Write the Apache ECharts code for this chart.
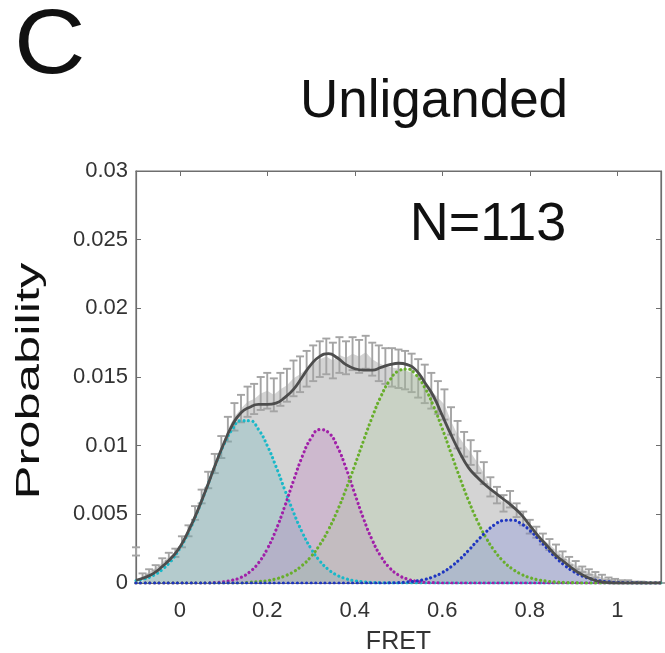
<!DOCTYPE html>
<html>
<head>
<meta charset="utf-8">
<script src="https://cdn.jsdelivr.net/npm/echarts@6/dist/echarts.min.js"></script>
<style>html,body{margin:0;padding:0;background:#fff}#c{width:665px;height:653px}</style>
</head>
<body>
<div id="c"></div>
<script>
const FONT = '"Liberation Sans", Arial, Helvetica, sans-serif';
const xTicks = [0, 0.2, 0.4, 0.6, 0.8, 1];
const xTickLabels = ['0', '0.2', '0.4', '0.6', '0.8', '1'];
const yTicks = [0, 0.005, 0.01, 0.015, 0.02, 0.025, 0.03];
const yTickLabels = ['0', '0.005', '0.01', '0.015', '0.02', '0.025', '0.03'];

// histogram bins (FRET centre), mean probability, error
const histX = [-0.1,-0.085,-0.07,-0.055,-0.04,-0.025,-0.01,0.005,0.02,0.035,0.05,0.065,0.08,0.095,0.11,0.125,0.14,0.155,0.17,0.185,0.2,0.215,0.23,0.245,0.26,0.275,0.29,0.305,0.32,0.335,0.35,0.365,0.38,0.395,0.41,0.425,0.44,0.455,0.47,0.485,0.5,0.515,0.53,0.545,0.56,0.575,0.59,0.605,0.62,0.635,0.65,0.665,0.68,0.695,0.71,0.725,0.74,0.755,0.77,0.785,0.8,0.815,0.83,0.845,0.86,0.875,0.89,0.905,0.92,0.935,0.95,0.965,0.98,0.995,1.01,1.025,1.04,1.055,1.07,1.085,1.1];
const histY = [0.0023,0.0005,0.0008,0.0011,0.0015,0.0019,0.0022,0.0030,0.0038,0.0051,0.0063,0.0075,0.0087,0.0099,0.0112,0.0121,0.0127,0.0132,0.0134,0.0138,0.0140,0.0137,0.0141,0.0144,0.0149,0.0152,0.0156,0.0160,0.0163,0.0165,0.0162,0.0166,0.0164,0.0167,0.0165,0.0168,0.0163,0.0160,0.0158,0.0157,0.0156,0.0155,0.0153,0.0149,0.0145,0.0140,0.0135,0.0130,0.0118,0.0108,0.0101,0.0095,0.0088,0.0080,0.0070,0.0064,0.0058,0.0061,0.0053,0.0047,0.0041,0.0037,0.0032,0.0028,0.0024,0.0020,0.0016,0.0013,0.0010,0.0008,0.0006,0.0004,0.0003,0.0002,0.0001,0.0001,0,0,0,0,0];
const histErr = [0.0003,0.0002,0.0002,0.0002,0.0003,0.0003,0.0003,0.0004,0.0004,0.0005,0.0005,0.0006,0.0007,0.0008,0.0009,0.0010,0.0010,0.0011,0.0011,0.0012,0.0013,0.0012,0.0012,0.0012,0.0013,0.0013,0.0013,0.0013,0.0013,0.0013,0.0013,0.0013,0.0012,0.0012,0.0012,0.0012,0.0012,0.0013,0.0013,0.0014,0.0014,0.0014,0.0014,0.0014,0.0014,0.0013,0.0012,0.0011,0.0010,0.0010,0.0009,0.0009,0.0008,0.0008,0.0007,0.0006,0.0006,0.0006,0.0005,0.0005,0.0005,0.0004,0.0004,0.0004,0.0004,0.0003,0.0003,0.0003,0.0002,0.0002,0.0002,0.0002,0.0001,0.0001,0.0001,0.0001,0.0001,0.0001,0,0,0];

// fitted curves sampled on FRET grid
const fitX = [-0.1,-0.08,-0.06,-0.04,-0.02,0,0.02,0.04,0.06,0.08,0.1,0.12,0.14,0.16,0.18,0.2,0.22,0.24,0.26,0.28,0.3,0.32,0.34,0.36,0.38,0.4,0.42,0.44,0.46,0.48,0.5,0.52,0.54,0.56,0.58,0.6,0.62,0.64,0.66,0.68,0.7,0.72,0.74,0.76,0.78,0.8,0.82,0.84,0.86,0.88,0.9,0.92,0.94,0.96,0.98,1,1.02,1.04,1.06,1.08,1.1];
const fitSum = [0.0002,0.0004,0.0007,0.0012,0.0018,0.0026,0.0038,0.0052,0.0068,0.0085,0.0101,0.0115,0.0124,0.0128,0.0130,0.0130,0.0131,0.0135,0.0141,0.0150,0.0159,0.0165,0.0167,0.0164,0.0159,0.0156,0.0155,0.0155,0.0157,0.0159,0.0160,0.0159,0.0155,0.0146,0.0136,0.0122,0.0108,0.0095,0.0084,0.0077,0.0071,0.0066,0.0061,0.0056,0.0050,0.0042,0.0034,0.0027,0.0020,0.0015,0.0010,0.0006,0.0003,0.0001,0.00003,0,0,0,0,0,0];
const fitCyan = [0.00016,0.00031,0.00056,0.00098,0.00161,0.00251,0.00369,0.00515,0.00679,0.00848,0.01001,0.01118,0.01182,0.01182,0.01118,0.01001,0.00848,0.00679,0.00515,0.00369,0.00251,0.00161,0.00098,0.00056,0.00031,0.00016,0.00008,0.00004,0.00002,0.00001,0,0,0,0,0,0,0,0,0,0,0,0,0,0,0,0,0,0,0,0,0,0,0,0,0,0,0,0,0,0,0];
const fitMagenta = [0,0,0,0,0,0,0,0,0,0.00003,0.00009,0.0002,0.00041,0.00081,0.00147,0.00248,0.00387,0.00558,0.00745,0.00921,0.01054,0.01117,0.01096,0.00995,0.00837,0.00651,0.00469,0.00313,0.00193,0.0011,0.00058,0.00029,0.00013,0.00005,0.00002,0,0,0,0,0,0,0,0,0,0,0,0,0,0,0,0,0,0,0,0,0,0,0,0,0,0];
const fitGreen = [0,0,0,0,0,0,0,0,0,0,0,0,0,0.00005,0.0001,0.00017,0.0003,0.00051,0.00082,0.00128,0.00192,0.00278,0.00389,0.00525,0.00683,0.00856,0.01036,0.01209,0.0136,0.01476,0.01544,0.01558,0.01516,0.01423,0.01288,0.01124,0.00946,0.00768,0.00601,0.00454,0.0033,0.00232,0.00157,0.00103,0.00065,0.00039,0.00023,0.00013,0.00007,0.00004,0.00002,0,0,0,0,0,0,0,0,0,0];
const fitBlue = [0,0,0,0,0,0,0,0,0,0,0,0,0,0,0,0,0,0,0,0,0,0,0,0,0,0,0,0,0,0.00001,0.00003,0.00007,0.00014,0.00026,0.00046,0.00076,0.00118,0.00173,0.00237,0.00307,0.00372,0.00425,0.00455,0.00458,0.00433,0.00384,0.00321,0.00251,0.00185,0.00128,0.00083,0.00051,0.00029,0.00016,0.00008,0.00004,0.00002,0.00001,0,0,0];

const zip = (xs, ys) => xs.map((x, i) => [x, ys[i]]);

const chart = echarts.init(document.getElementById('c'), null, {renderer: 'canvas'});

function comp(name, ys, lineColor, fillColor) {
  return {
    name, type: 'line', data: zip(fitX, ys), smooth: true, showSymbol: false, z: 4,
    lineStyle: {color: lineColor, width: 3.2, type: [0.01, 4.6], cap: 'round'},
    areaStyle: {color: fillColor, origin: 0},
    silent: true
  };
}

const axisCol = '#6e6e6e';
const labelCol = '#333333';

chart.setOption({
  animation: false,
  grid: {left: 136, right: 4, top: 171, bottom: 70, show: true, borderColor: axisCol, borderWidth: 1.2,
    containLabel: false, outerBoundsMode: 'none'},
  xAxis: [{
    type: 'value', min: -0.1, max: 1.1,
    axisLine: {show: true, onZero: false, lineStyle: {color: axisCol, width: 1.2}},
    axisTick: {show: true, inside: true, length: 5, customValues: xTicks, lineStyle: {color: axisCol}},
    axisLabel: {customValues: xTicks, margin: 17, color: labelCol, fontSize: 22, fontFamily: FONT,
      formatter: v => xTickLabels[xTicks.indexOf(v)] ?? ''},
    splitLine: {show: false},
    name: 'FRET', nameLocation: 'middle', nameGap: 47,
    nameTextStyle: {fontSize: 25, color: labelCol, fontFamily: FONT}
  }, {
    type: 'value', min: -0.1, max: 1.1, position: 'top',
    axisLine: {show: true, onZero: false, lineStyle: {color: axisCol, width: 1.2}},
    axisTick: {show: true, inside: true, length: 5, customValues: xTicks, lineStyle: {color: axisCol}},
    axisLabel: {show: false}, splitLine: {show: false}
  }],
  yAxis: [{
    type: 'value', min: 0, max: 0.03, interval: 0.005,
    axisLine: {show: true, onZero: false, lineStyle: {color: axisCol, width: 1.2}},
    axisTick: {show: true, inside: true, length: 5, customValues: yTicks, lineStyle: {color: axisCol}},
    axisLabel: {customValues: yTicks, margin: 8, color: labelCol, fontSize: 22, fontFamily: FONT,
      formatter: v => { const i = yTicks.findIndex(t => Math.abs(t - v) < 1e-9); return i >= 0 ? yTickLabels[i] : ''; }},
    splitLine: {show: false}
  }, {
    type: 'value', min: 0, max: 0.03, interval: 0.005, position: 'right',
    axisLine: {show: true, onZero: false, lineStyle: {color: axisCol, width: 1.2}},
    axisTick: {show: true, inside: true, length: 5, customValues: yTicks, lineStyle: {color: axisCol}},
    axisLabel: {show: false}, splitLine: {show: false}
  }],
  graphic: [
    {type: 'text', x: 14, y: 48, scaleX: 1.1, style: {text: 'C', font: '90px ' + FONT, fill: '#111', textAlign: 'left', textVerticalAlign: 'middle'}},
    {type: 'text', x: 434, y: 102, style: {text: 'Unliganded', font: '53px ' + FONT, fill: '#111', textAlign: 'center', textVerticalAlign: 'middle'}},
    {type: 'text', x: 488, y: 225, z: 10, style: {text: 'N=113', font: '54px ' + FONT, fill: '#111', textAlign: 'center', textVerticalAlign: 'middle'}},
    {type: 'text', x: 30, y: 381, rotation: Math.PI / 2, scaleX: 1.45, scaleY: 0.95, style: {text: 'Probability', font: '35px ' + FONT, fill: '#111', textAlign: 'center', textVerticalAlign: 'middle'}}
  ],
  series: [
    {
      name: 'hist', type: 'line', data: zip(histX.slice(1), histY.slice(1)), showSymbol: false, z: 1,
      lineStyle: {width: 0}, areaStyle: {color: '#d4d4d4', opacity: 1}, silent: true
    },
    {
      name: 'err', type: 'custom', z: 2, silent: true,
      data: histX.map((x, i) => [x, histY[i], histErr[i]]),
      renderItem: (params, api) => {
        const x = api.value(0), y = api.value(1), e = api.value(2);
        const top = api.coord([x, y + e]);
        const bot = api.coord([x, Math.max(y - e, 0)]);
        const hw = 4;
        const st = {stroke: '#a4a4a4', lineWidth: 1.9, fill: null};
        return {type: 'group', children: [
          {type: 'line', shape: {x1: top[0], y1: top[1], x2: bot[0], y2: bot[1]}, style: st},
          {type: 'line', shape: {x1: top[0] - hw, y1: top[1], x2: top[0] + hw, y2: top[1]}, style: st},
          {type: 'line', shape: {x1: bot[0] - hw, y1: bot[1], x2: bot[0] + hw, y2: bot[1]}, style: st}
        ]};
      }
    },
    comp('cyan', fitCyan, '#1ab8c8', 'rgba(60,170,180,0.3)'),
    comp('magenta', fitMagenta, '#a020a8', 'rgba(180,85,185,0.3)'),
    comp('green', fitGreen, '#68ae2c', 'rgba(160,205,140,0.3)'),
    comp('blue', fitBlue, '#1f36c0', 'rgba(80,100,225,0.3)'),
    {
      name: 'sum', type: 'line', data: zip(fitX, fitSum), smooth: true, showSymbol: false, z: 5,
      lineStyle: {color: '#4d4d4d', width: 2.8}, silent: true
    }
  ]
});
</script>
</body>
</html>
